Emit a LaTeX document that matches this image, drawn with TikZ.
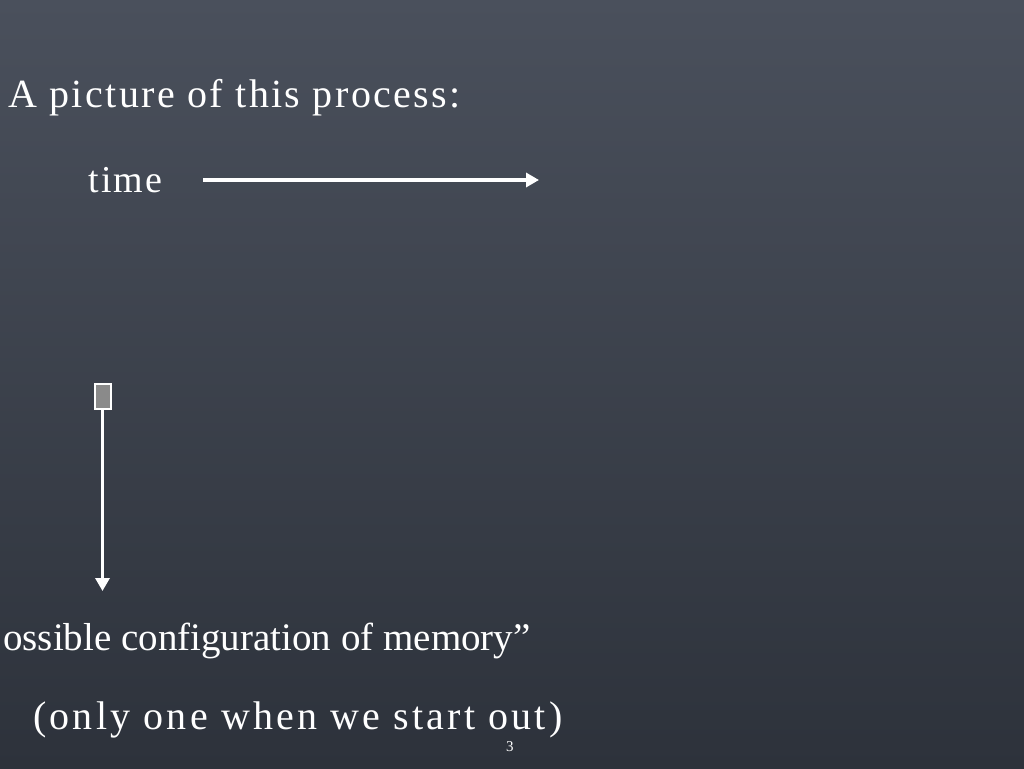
\documentclass[tikz,border=0pt]{standalone}
\usepackage{fontspec}
\setmainfont{Liberation Serif}
\newfontfamily\spaced[LetterSpace=6]{Liberation Serif}
\newfontfamily\spacedwide[LetterSpace=8]{Liberation Serif}
\usetikzlibrary{arrows.meta}
\definecolor{boardA}{HTML}{4A505C}
\definecolor{boardB}{HTML}{2D323B}
\definecolor{cellgray}{HTML}{8A8A8A}
\begin{document}
\begin{tikzpicture}[x=1pt,y=-1pt,
  txt/.style={text=white,inner sep=0pt,anchor=base west,font=\fontsize{40}{44}\selectfont},
  wline/.style={draw=white,line width=3.5pt,-{Triangle[length=13pt,width=14pt]}}]
\useasboundingbox (0,0) rectangle (1024,768);
\shade[top color=boardA,bottom color=boardB] (0,0) rectangle (1024,768);
\node[txt,font=\fontsize{40}{44}\selectfont\spaced] (title) at (8,107) {A picture of this process:};
\node[txt,font=\fontsize{38}{44}\selectfont\spaced] (time) at (88,192) {time};
\coordinate (tstart) at (203,180);
\coordinate (tend) at (539,180);
\draw[wline] (tstart) -- (tend);
\node[draw=white,line width=2pt,fill=cellgray,minimum width=16pt,minimum height=25pt,inner sep=0pt] (cell) at (102.5,396) {};
\coordinate (mend) at (102.5,591);
\draw[wline] (cell.south) -- (mend);
\node[txt,font=\fontsize{39}{44}\selectfont] (conf) at (3,650) {ossible configuration of memory”};
\node[txt,font=\fontsize{40}{44}\selectfont\spacedwide] (only) at (33,729) {(only one when we start out)};
\node[txt,font=\fontsize{15}{16}\selectfont] (page) at (506,751) {3};
\end{tikzpicture}
\end{document}
